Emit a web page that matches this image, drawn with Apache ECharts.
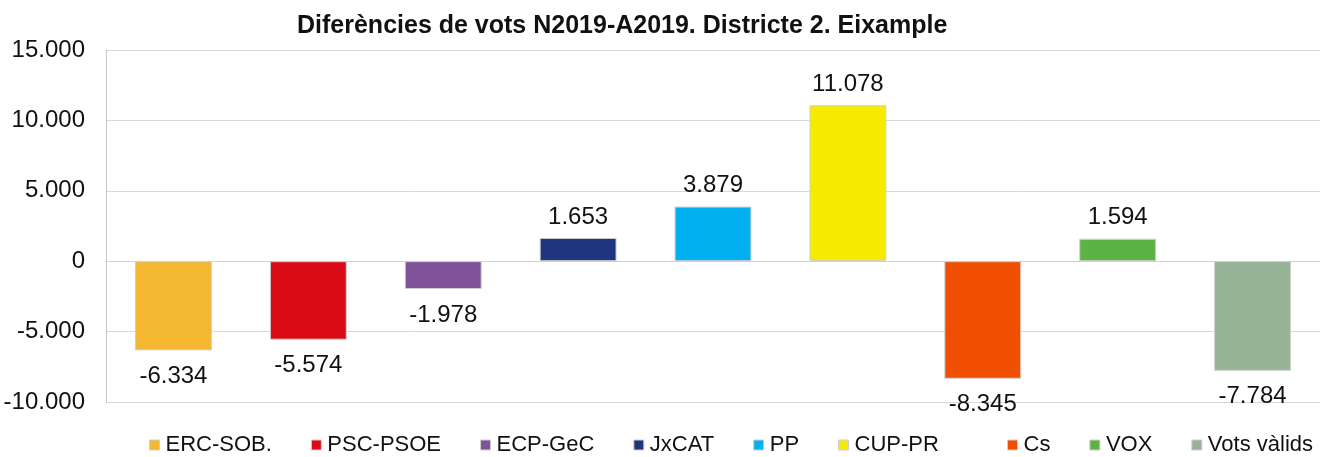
<!DOCTYPE html>
<html>
<head>
    <meta charset="utf-8">
    <title>Diferències de vots N2019-A2019</title>
    <script src="https://cdn.jsdelivr.net/npm/echarts@6/dist/echarts.min.js"></script>
    <style>
        html, body { margin: 0; padding: 0; background: #fff; }
    </style>
</head>
<body>
    <div id="main" style="width: 1334px;height:457px;"></div>
    <script type="text/javascript">
        // dades
        var partits = ['ERC-SOB.', 'PSC-PSOE', 'ECP-GeC', 'JxCAT', 'PP', 'CUP-PR', 'Cs', 'VOX', 'Vots vàlids'];
        var diferencies = [-6334, -5574, -1978, 1653, 3879, 11078, -8345, 1594, -7784];
        var colors = ['#F4B731', '#DA0A16', '#7F5299', '#1F3580', '#00B0F0', '#F5EB00', '#F04E00', '#5BB346', '#96B396'];
        var yTicks = { min: -10000, max: 15000, interval: 5000 };

        function fmt(v) {
            var s = String(Math.abs(v)).replace(/\B(?=(\d{3})+(?!\d))/g, '.');
            return (v < 0 ? '-' : '') + s;
        }

        var font = 'Arial, "Liberation Sans", sans-serif';

        // una serie per partit, totes apilades perquè quedin centrades
        var series = partits.map(function (nom, i) {
            var d = partits.map(function (p, j) {
                if (j !== i) return '-';
                var v = diferencies[j];
                return {
                    value: v,
                    label: v >= 0 ? { position: 'top', distance: 9 } : { position: 'bottom', distance: 14 }
                };
            });
            return {
                name: nom,
                type: 'bar',
                stack: 'total',
                barWidth: '57%',
                data: d,
                itemStyle: { color: colors[i], borderColor: '#cfcfcf', borderWidth: 1 },
                label: {
                    show: true,
                    fontSize: 24,
                    fontFamily: font,
                    color: '#111',
                    formatter: function (p) { return fmt(p.value); }
                }
            };
        });

        var legendCommon = {
            top: 434,
            padding: 0,
            itemWidth: 10,
            itemHeight: 10,
            itemGap: 39,
            icon: 'rect',
            textStyle: { fontSize: 22, fontFamily: font, color: '#111', padding: [0, 0, 0, 1] },
            itemStyle: { borderWidth: 1, borderColor: '#cfcfcf' }
        };

        var myChart = echarts.init(document.getElementById('main'));
        myChart.setOption({
            animation: false,
            title: {
                text: 'Diferències de vots N2019-A2019. Districte 2. Eixample',
                left: 297,
                top: 14,
                padding: 0,
                textStyle: { fontSize: 25, fontWeight: 'bold', fontFamily: font, color: '#111' }
            },
            legend: [
                Object.assign({ left: 149, data: partits.slice(0, 6) }, legendCommon),
                Object.assign({ left: 1007, data: partits.slice(6) }, legendCommon)
            ],
            grid: { left: 106, right: 14, top: 50, bottom: 55, containLabel: false },
            xAxis: {
                type: 'category',
                data: partits,
                axisLine: { show: true, onZero: true, lineStyle: { color: '#d0d0d0' } },
                axisTick: { show: false },
                axisLabel: { show: false }
            },
            yAxis: {
                type: 'value',
                min: yTicks.min,
                max: yTicks.max,
                interval: yTicks.interval,
                axisLine: { show: true, lineStyle: { color: '#c8c8c8' } },
                axisTick: { show: false },
                splitLine: { lineStyle: { color: '#d9d9d9' } },
                axisLabel: {
                    fontSize: 24,
                    fontFamily: font,
                    color: '#111',
                    margin: 21,
                    formatter: fmt
                }
            },
            series: series
        });
    </script>
</body>
</html>
